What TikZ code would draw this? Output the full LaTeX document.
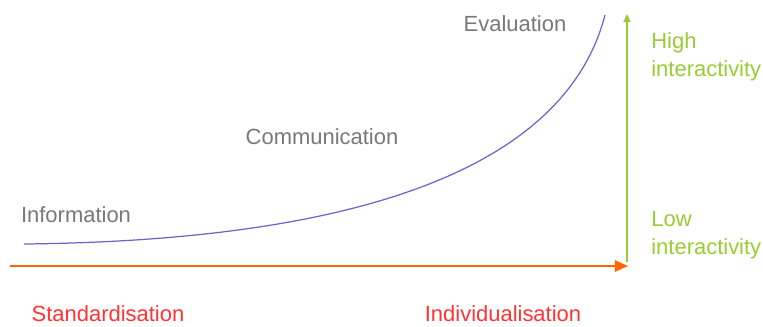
\documentclass[tikz,border=0pt]{standalone}
\usepackage{fontspec}
\setmainfont{Liberation Sans}
\usetikzlibrary{arrows.meta,positioning}
\definecolor{axisorange}{RGB}{255,102,0}
\definecolor{labelred}{RGB}{255,51,51}
\definecolor{interactgreen}{RGB}{153,204,51}
\definecolor{curveblue}{RGB}{102,102,204}
\definecolor{stagegray}{RGB}{120,120,120}
\begin{document}
\begin{tikzpicture}[x=0.02cm,y=-0.02cm,
  stage/.style={text=stagegray,font=\fontsize{12.5}{15}\selectfont,inner sep=0pt},
  level/.style={text=interactgreen,font=\fontsize{12.5}{16}\selectfont,align=left,anchor=west,inner sep=0pt},
  pole/.style={text=labelred,font=\fontsize{12.5}{15}\selectfont,inner sep=0pt}]
\useasboundingbox (0,0) rectangle (763,326);
% Achsen: horizontal (orange) und vertikal (grün)
\coordinate (xstart) at (10,266);
\coordinate (xend) at (628,266);
\coordinate (ystart) at (627,262);
\coordinate (yend) at (627,14);
\draw[-{Triangle[length=7.5pt,width=6.5pt]},axisorange,line width=1.2pt] (xstart) -- (xend);
\draw[-{Triangle[length=4.5pt,width=4pt]},interactgreen,line width=0.9pt] (ystart) -- (yend);
% Kurve
\coordinate (cstart) at (24,244);
\coordinate (cend) at (605,15);
\draw[curveblue,line width=0.7pt] (cstart) .. controls (400,240) and (570,150) .. (cend);
% Stufen entlang der Kurve
\node[stage] (info) at (76,215) {Information};
\node[stage] (comm) at (322,137) {Communication};
\node[stage] (eval) at (515,24) {Evaluation};
% Interaktivität
\node[level] (high) at (651,57) {High\\interactivity};
\node[level] (low) at (651,235) {Low\\interactivity};
% Pole der x-Achse
\node[pole] (std) at (108,314) {Standardisation};
\node[pole] (indiv) at (503,314) {Individualisation};
\end{tikzpicture}
\end{document}
